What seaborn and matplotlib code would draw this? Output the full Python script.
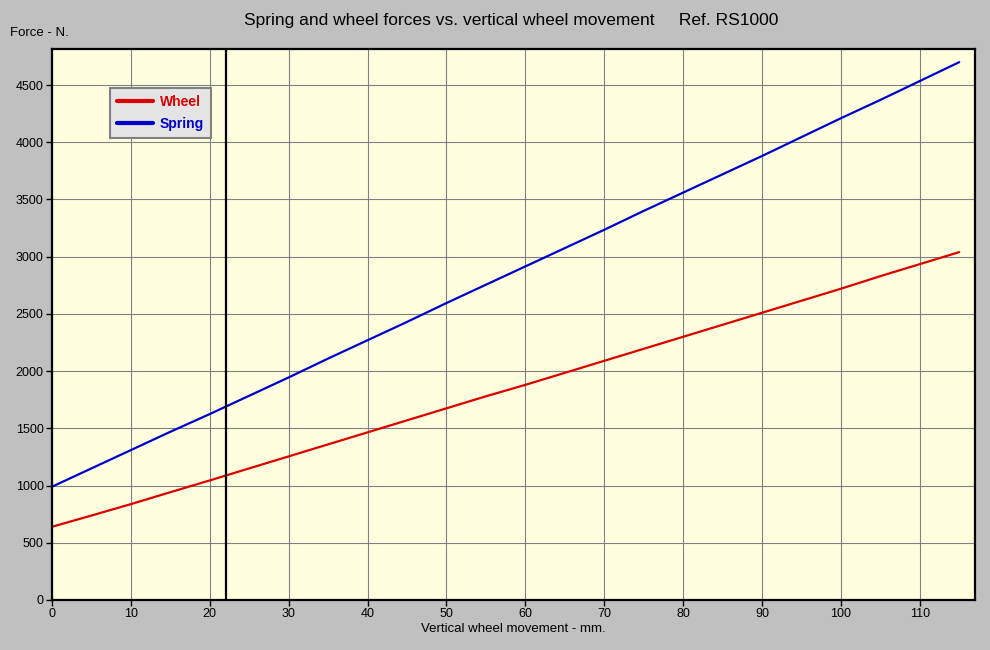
import matplotlib
matplotlib.use("Agg")
import matplotlib.pyplot as plt
import numpy as np
import pandas as pd
import seaborn as sns

# Vertical wheel movement (mm) and forces (N)
movement = [0, 5, 10, 15, 20, 25, 30, 35, 40, 45, 50, 55,
            60, 65, 70, 75, 80, 85, 90, 95, 100, 105, 110, 115]
wheel_force = [640, 738, 838, 942, 1045, 1150, 1255, 1360, 1465, 1570, 1675, 1780,
               1880, 1985, 2090, 2195, 2300, 2405, 2510, 2615, 2720, 2830, 2935, 3040]
spring_force = [990, 1150, 1310, 1470, 1625, 1785, 1945, 2110, 2270, 2430, 2595, 2755,
                2915, 3075, 3235, 3400, 3560, 3720, 3880, 4045, 4210, 4370, 4535, 4700]
marker_position = 22
x_ticks = list(range(0, 111, 10))
y_ticks = list(range(0, 4501, 500))

sns.set_style("ticks")
plt.rcParams["font.family"] = ["Liberation Sans", "DejaVu Sans"]
plt.rcParams["text.color"] = "black"
plt.rcParams["axes.labelcolor"] = "black"

df = pd.concat([
    pd.DataFrame({"movement": movement, "force": wheel_force, "series": "Wheel"}),
    pd.DataFrame({"movement": movement, "force": spring_force, "series": "Spring"}),
])

fig = plt.figure(figsize=(9.9, 6.5), dpi=100, facecolor="#C0C0C0")
ax = fig.add_axes([52 / 990, 50 / 650, 923 / 990, 551 / 650])
ax.set_facecolor("#FFFFE0")

sns.lineplot(data=df, x="movement", y="force", hue="series",
             palette={"Wheel": "#DD0000", "Spring": "#0000CC"},
             linewidth=1.6, ax=ax, legend=True)
ax.axvline(marker_position, color="black", linewidth=1.6)

ax.set_xlim(0, 117)
ax.set_ylim(0, 4815)
ax.set_xticks(x_ticks)
ax.set_yticks(y_ticks)
ax.grid(True, color="#808080", linewidth=0.8)
ax.set_axisbelow(True)
for s in ax.spines.values():
    s.set_color("black")
    s.set_linewidth(1.6)
ax.tick_params(direction="out", length=4, width=1, colors="black", labelsize=9, pad=2)

ax.set_xlabel("Vertical wheel movement - mm.", fontsize=9.5, labelpad=2)
ax.set_ylabel("")
fig.text(10 / 990, 1 - 33 / 650, "Force - N.", fontsize=9.5, va="center", ha="left")
fig.text(511 / 990, 1 - 20 / 650,
         "Spring and wheel forces vs. vertical wheel movement     Ref. RS1000",
         fontsize=12.5, ha="center", va="center")

leg = ax.legend(loc="upper left", bbox_to_anchor=(58 / 923, (600 - 88) / 551),
                frameon=True, fancybox=False, fontsize=10, handlelength=2.6,
                borderpad=0.5, labelspacing=0.55, handletextpad=0.5,
                borderaxespad=0)
leg.get_frame().set_facecolor("#E4E4E4")
leg.get_frame().set_edgecolor("#808080")
leg.get_frame().set_linewidth(1.5)
leg.get_frame().set_alpha(1)
for line, text in zip(leg.get_lines(), leg.get_texts()):
    line.set_linewidth(3)
    text.set_color(line.get_color())
    text.set_fontweight("bold")

fig.savefig("out.png", dpi=100, facecolor=fig.get_facecolor())
